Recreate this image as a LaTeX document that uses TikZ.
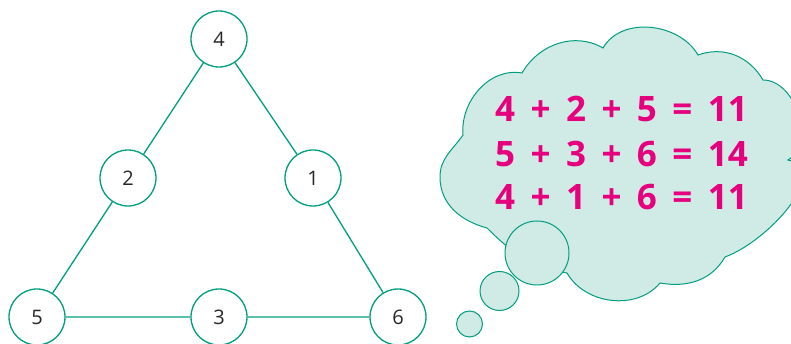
\documentclass[tikz,border=0pt]{standalone}
\usepackage{fontspec}
\setmainfont{Open Sans}
\newfontfamily\sumfont[WordSpace=1.7]{Open Sans}
\definecolor{lineteal}{RGB}{0,158,128}
\definecolor{cloudfill}{RGB}{208,234,230}
\definecolor{sumpink}{RGB}{230,0,126}
\definecolor{numgray}{RGB}{40,38,40}

\begin{document}
\begin{tikzpicture}[x=1pt, y=1pt,
  num/.style={circle, draw=lineteal, line width=1.3pt, fill=white, minimum size=56pt, inner sep=0pt, text=numgray, font=\fontsize{20}{24}\selectfont},
  edge/.style={draw=lineteal, line width=1.3pt},
  bubble/.style={draw=lineteal, line width=1pt, fill=cloudfill},
  sumline/.style={anchor=base west, inner sep=0pt, text=sumpink, font=\sumfont\bfseries\fontsize{35}{42}\selectfont}]
\useasboundingbox (0,0) rectangle (791,344);
% triangle of numbers
\node[num] (n4) at (219,305) {4};
\node[num] (n2) at (128,166) {2};
\node[num] (n1) at (313,166) {1};
\node[num] (n5) at (37,27) {5};
\node[num] (n3) at (219,27) {3};
\node[num] (n6) at (398,27) {6};
\draw[edge] (n4)--(n2) (n2)--(n5) (n5)--(n3) (n3)--(n6) (n6)--(n1) (n1)--(n4);
% thought cloud
\draw[bubble] (487,116) to[out=165, in=-90] (440,167) to[out=90, in=235] (463,209)
  to[out=95, in=170] (522,271)
  to[out=60, in=150] (603,296) to[out=60, in=120] (698,289) to[out=20, in=120] (763,264)
  to[out=0, in=30] (788,184) to[out=-15, in=20] (725,87) to[out=240, in=-10] (660,61)
  to[out=230, in=300] (567,71) to[out=170, in=315] cycle;
\node[sumline] (s1) at (495,222) {4 + 2 + 5 = 11};
\node[sumline] (s2) at (495,177) {5 + 3 + 6 = 14};
\node[sumline] (s3) at (495,134) {4 + 1 + 6 = 11};
\node[bubble, circle, minimum size=64pt, inner sep=0pt] (b1) at (537,91) {};
\node[bubble, circle, minimum size=39pt, inner sep=0pt] (b2) at (499.5,53) {};
\node[bubble, circle, minimum size=26pt, inner sep=0pt] (b3) at (469.5,20) {};
\end{tikzpicture}
\end{document}
